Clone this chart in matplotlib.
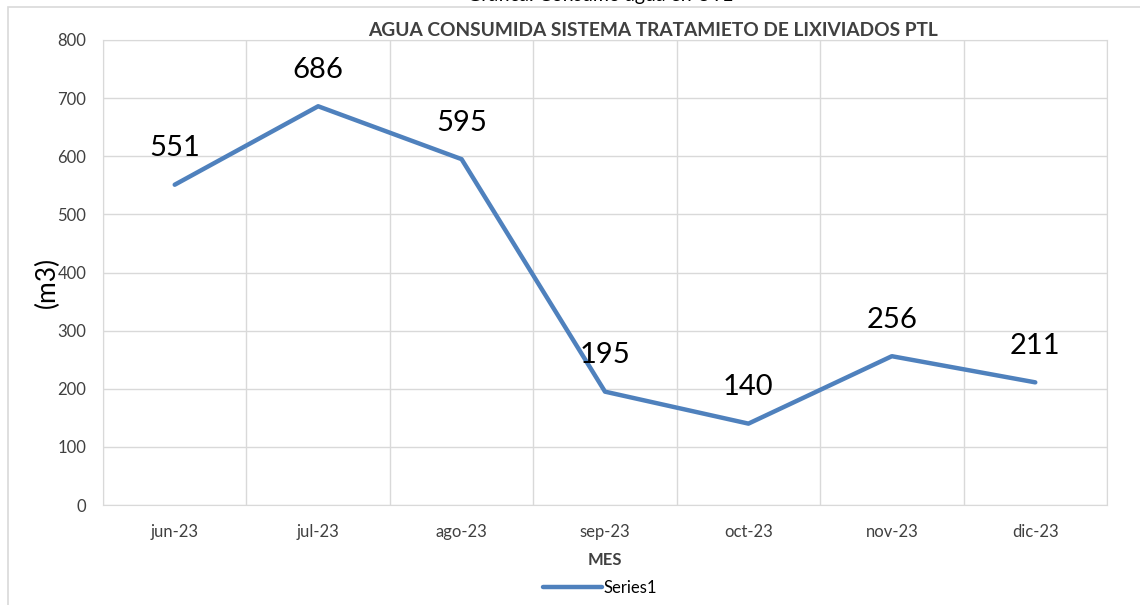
import matplotlib.pyplot as plt
from matplotlib.patches import Rectangle

# data
meses = ['jun-23', 'jul-23', 'ago-23', 'sep-23', 'oct-23', 'nov-23', 'dic-23']
consumo = [551, 686, 595, 195, 140, 256, 211]

plt.rcParams['font.family'] = ['Lato', 'DejaVu Sans']

fig = plt.figure(figsize=(11.4, 6.05), dpi=100)
ax = fig.add_axes([103 / 1140, 1 - 505 / 605, 1004 / 1140, 465 / 605])

x = list(range(len(meses)))
line, = ax.plot(x, consumo, color='#4F81BD', lw=3.2, solid_capstyle='round', label='Series1')

# etiquetas de datos
for xi, v in zip(x, consumo):
    ax.annotate(str(v), (xi, v), xytext=(0, 17), textcoords='offset points',
                ha='center', va='bottom', fontsize=21, color='black')

ax.set_xlim(-0.5, len(meses) - 0.5)
ax.set_ylim(0, 800)
ax.set_yticks(range(0, 801, 100))
ax.set_xticks(x)
ax.set_xticklabels(meses)
ax.set_xticks([i - 0.5 for i in range(len(meses) + 1)], minor=True)
ax.grid(True, axis='y', color='#D9D9D9', lw=1)
ax.grid(True, axis='x', which='minor', color='#D9D9D9', lw=1)
ax.set_axisbelow(True)
ax.tick_params(axis='both', which='both', length=0, labelsize=12, colors='#404040', pad=12)
ax.tick_params(axis='x', pad=14)
for s in ax.spines.values():
    s.set_color('#D9D9D9')

ax.set_xlabel('MES', fontsize=12, fontweight='bold', color='#404040', labelpad=8)
fig.text(47 / 1140, 1 - 282 / 605, '(m3)', rotation=90, fontsize=19,
         ha='center', va='center', color='black')

fig.text(653 / 1140, 1 - 30 / 605, 'AGUA CONSUMIDA SISTEMA TRATAMIETO DE LIXIVIADOS PTL',
         ha='center', va='center', fontsize=13.8, fontweight='bold', color='#404040')
fig.text(600 / 1140, 1.008, 'Grafica: Consumo agua en UTL', ha='center', va='center',
         fontsize=14, color='black')

fig.legend(handles=[line], loc='center', bbox_to_anchor=(600 / 1140, 1 - 588 / 605),
           frameon=False, fontsize=12, handlelength=3.5, handletextpad=0.1)

# borde del area del grafico
fig.patches.append(Rectangle((8 / 1140, -0.1), 1.2, 1 - 7 / 605 + 0.1, transform=fig.transFigure,
                             fill=False, edgecolor='#D9D9D9', lw=1.2))

fig.savefig('out.png', dpi=100, facecolor='white')
